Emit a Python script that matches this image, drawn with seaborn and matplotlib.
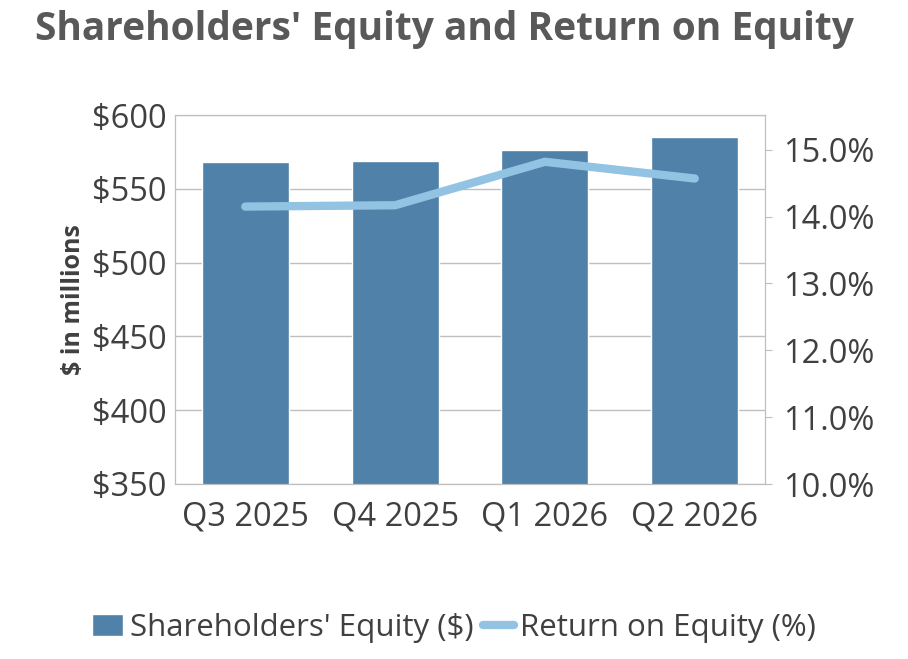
import matplotlib
matplotlib.use("Agg")
import matplotlib.pyplot as plt
import seaborn as sns
import pandas as pd

quarters = ["Q3 2025", "Q4 2025", "Q1 2026", "Q2 2026"]
equity = [568, 569, 576, 585]
roe = [14.15, 14.17, 14.82, 14.57]

sns.set_style("white")
plt.rcParams['font.family'] = ['Open Sans', 'DejaVu Sans']
txt = "#404040"

df = pd.DataFrame({"Quarter": quarters, "Equity": equity, "ROE": roe})

fig = plt.figure(figsize=(9.08, 6.59), dpi=100)
ax = fig.add_axes([175/908, 1-484/659, 590/908, 369/659])
sns.barplot(data=df, x="Quarter", y="Equity", color="#4f81a9", saturation=1,
            width=0.58, ax=ax, label="Shareholders' Equity ($)")
ax.set_ylim(350, 600)
ax.set_yticks(range(350, 601, 50))
ax.set_yticklabels([f"${v}" for v in range(350, 601, 50)])
ax.yaxis.grid(True, color="#bfbfbf", lw=1)
ax.set_axisbelow(True)
ax.set_xlabel("")
ax.set_ylabel("$ in millions", fontsize=18, fontweight="bold", color=txt, labelpad=4)
ax.tick_params(axis="y", labelsize=23.5, colors=txt, length=0, pad=6)
ax.tick_params(axis="x", labelsize=23.5, colors=txt, length=0, pad=12)
for s in ax.spines.values():
    s.set_color("#bfbfbf")

ax2 = ax.twinx()
sns.lineplot(data=df, x="Quarter", y="ROE", color="#92c3e3", lw=6, ax=ax2,
             label="Return on Equity (%)", legend=False)
ax2.set_ylim(10, 15.52)
ax2.set_yticks([10, 11, 12, 13, 14, 15])
ax2.set_yticklabels([f"{v:.1f}%" for v in range(10, 16)])
ax2.set_ylabel("")
ax2.tick_params(labelsize=23.5, colors=txt, length=5, color="#bfbfbf", pad=8)
for s in ax2.spines.values():
    s.set_color("#bfbfbf")

fig.suptitle("Shareholders' Equity and Return on Equity", x=0.49, y=0.985,
             fontsize=28, fontweight="bold", color="#595959")

h1, l1 = ax.get_legend_handles_labels()
h2, l2 = ax2.get_legend_handles_labels()
if ax.get_legend():
    ax.get_legend().remove()
fig.legend(h1 + h2, l1 + l2, loc="center", bbox_to_anchor=(0.5, 1-628/659),
           ncol=2, frameon=False, fontsize=22.5, labelcolor=txt,
           handlelength=1.0, handletextpad=0.2, columnspacing=0.3)

fig.savefig("out.png", dpi=100)
